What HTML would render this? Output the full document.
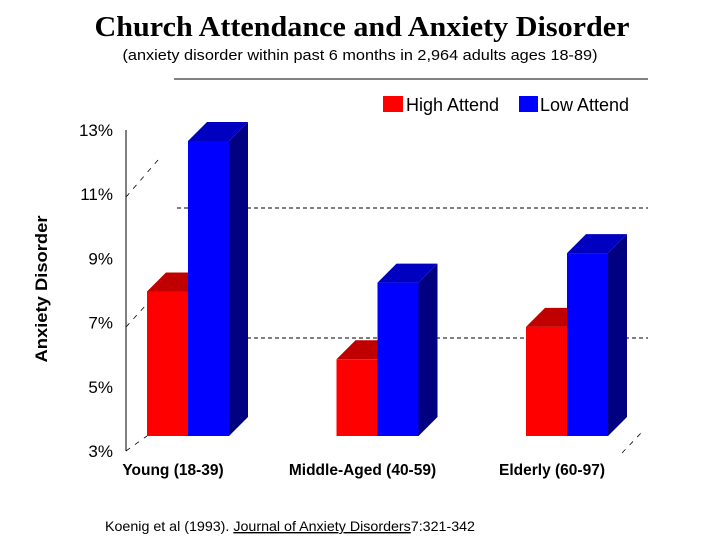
<!DOCTYPE html>
<html><head><meta charset="utf-8"><style>
html,body{margin:0;padding:0;background:#fff;width:720px;height:540px;overflow:hidden}
svg{display:block}
</style></head><body>
<svg id="chart" width="720" height="540" xmlns="http://www.w3.org/2000/svg">
<text x="362" y="36" text-anchor="middle" font-family="Liberation Serif, serif" font-weight="bold" font-size="28" textLength="535" lengthAdjust="spacingAndGlyphs">Church Attendance and Anxiety Disorder</text>
<text x="360" y="60" text-anchor="middle" font-family="Liberation Sans, sans-serif" font-size="15" textLength="475" lengthAdjust="spacingAndGlyphs">(anxiety disorder within past 6 months in 2,964 adults ages 18-89)</text>
<line x1="174" y1="79" x2="648" y2="79" stroke="#000" stroke-width="1"/>
<g>
<rect x="383" y="96" width="20" height="16" fill="#ff0000"/>
<text x="406" y="111" font-family="Liberation Sans, sans-serif" font-size="18">High Attend</text>
<rect x="519" y="96" width="19" height="16" fill="#0000ff"/>
<text x="540" y="111" font-family="Liberation Sans, sans-serif" font-size="18">Low Attend</text>
</g>
<text transform="translate(47,289) rotate(-90)" text-anchor="middle" font-family="Liberation Sans, sans-serif" font-weight="bold" font-size="17" textLength="147" lengthAdjust="spacingAndGlyphs">Anxiety Disorder</text>
<line x1="126" y1="130" x2="126" y2="451" stroke="#000" stroke-width="1"/>
<line x1="177" y1="208" x2="648" y2="208" stroke="#000" stroke-dasharray="4,3"/>
<line x1="177" y1="338" x2="648" y2="338" stroke="#000" stroke-dasharray="4,3"/>
<g stroke="#000" stroke-dasharray="5,6" stroke-width="0.8">
<line x1="126" y1="197" x2="158" y2="160"/>
<line x1="126" y1="327" x2="146" y2="305"/>
<line x1="126" y1="451" x2="147" y2="436"/>
<line x1="622" y1="453" x2="642" y2="432"/>
</g>
<g id="ticks"></g>
<g id="bars"></g>
<g id="cats"></g>
<text x="105" y="531" font-family="Liberation Sans, sans-serif" font-size="14" textLength="370" lengthAdjust="spacingAndGlyphs">Koenig et al (1993).  <tspan text-decoration="underline">Journal of Anxiety Disorders</tspan>7:321-342</text>
</svg>
<script>
const categories = ["Young (18-39)", "Middle-Aged (40-59)", "Elderly (60-97)"];
const highAttend = [7.9, 5.6, 6.7];
const lowAttend = [13.0, 8.2, 9.2];
const tickValues = [3, 5, 7, 9, 11, 13];
const tickLabels = ["3%", "5%", "7%", "9%", "11%", "13%"];

const NS = "http://www.w3.org/2000/svg";
function mk(tag, attrs, parent){const e=document.createElementNS(NS,tag);for(const k in attrs)e.setAttribute(k,attrs[k]);parent.appendChild(e);return e;}
function tickY(v){return 451 - (v-3)*32.1;}
function barY(v){return 436 - (v-3)*29.5;}
function groupX(i){return 147 + i*189.5;}
const BW=41, D=19;

const ticks=document.getElementById('ticks');
tickValues.forEach((v,i)=>{
  const t=mk('text',{x:113,y:tickY(v)+6,'text-anchor':'end','font-family':'Liberation Sans, sans-serif','font-size':'17'},ticks);
  t.textContent=tickLabels[i];
  
  
});

const bars=document.getElementById('bars');
function bar(x,v,front,top,side,name){
  const y=barY(v), b=436;
  const g=mk('g',{},bars);
  
  
  mk('polygon',{points:`${x+BW},${y} ${x+BW+D},${y-D} ${x+BW+D},${b-D} ${x+BW},${b}`,fill:side},g);
  mk('polygon',{points:`${x},${y} ${x+D},${y-D} ${x+BW+D},${y-D} ${x+BW},${y}`,fill:top},g);
  mk('rect',{x:x,y:y,width:BW,height:b-y,fill:front},g);
}
categories.forEach((c,i)=>{
  const x=groupX(i);
  bar(x,highAttend[i],'#ff0000','#c00000','#800000','bar-high-'+i);
  bar(x+BW,lowAttend[i],'#0000ff','#0000c0','#000080','bar-low-'+i);
});

const cats=document.getElementById('cats');
categories.forEach((c,i)=>{
  const t=mk('text',{x:groupX(i)+26,y:475,'text-anchor':'middle','font-family':'Liberation Sans, sans-serif','font-weight':'bold','font-size':'15.5'},cats);
  t.textContent=c;
  
  
});
</script>
</body></html>
